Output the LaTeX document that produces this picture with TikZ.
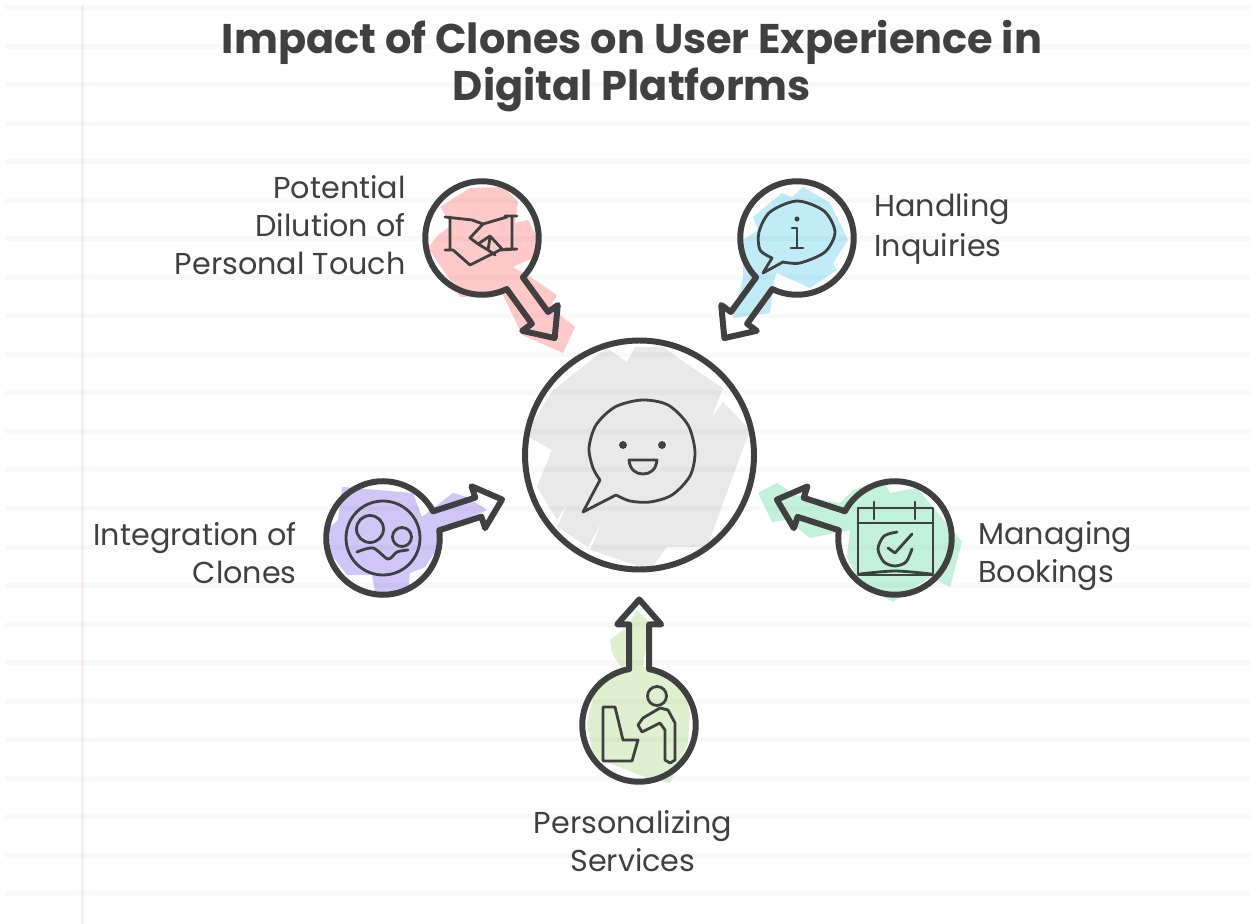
\documentclass[tikz,border=0pt]{standalone}
\usepackage{fontspec}
\setmainfont{Poppins}
\usetikzlibrary{calc}

\definecolor{inkgray}{HTML}{404040}
\definecolor{pinkwash}{HTML}{FFC9C9}
\definecolor{bluewash}{HTML}{BFECF8}
\definecolor{purplewash}{HTML}{D0C6F7}
\definecolor{mintwash}{HTML}{C3F2DC}
\definecolor{limewash}{HTML}{DEF0CD}
\definecolor{graywash}{HTML}{E9E9E9}

\tikzset{
	outline/.style={draw=inkgray, line width=3.4pt, line join=round},
	icon/.style={draw=inkgray, line width=1.6pt, line join=round, line cap=round},
	hubnode/.style={circle, outline, minimum size=45.8mm, inner sep=0pt},
	discnode/.style={circle, minimum size=22.8mm, inner sep=0pt},
	headline/.style={text=inkgray, align=center, inner sep=0pt, font=\fontsize{23.6}{27.2}\selectfont\bfseries},
	caption/.style={text=inkgray, inner sep=0pt, font=\fontsize{17.2}{21.6}\selectfont},
}

\newcommand{\spoke}[1]{
	\draw[outline] let \p1=($(hub.center)-(#1.center)$), \n1={atan2(\y1,\x1)}, \n2={veclen(\x1,\y1)-82.2pt}, \n3={\n2-14.2pt} in
		{[shift={(#1.center)}, rotate=\n1] (10.1:32.3pt) arc[start angle=10.1, end angle=349.9, radius=32.3pt]
		-- (\n3, -5.7pt) -- (\n3, -12.5pt) -- (\n2, 0pt) -- (\n3, 12.5pt) -- (\n3, 5.7pt) -- cycle};
}

\begin{document}
\begin{tikzpicture}[x=0.2mm, y=-0.2mm]
	\useasboundingbox (0, 0) rectangle (1250, 924);
	\fill[white] (0, 0) rectangle (1250, 924);

	\fill[graywash]		(553, 390) -- (607, 348) -- (627, 362) -- (635, 347) -- (663, 347) -- (700, 373) -- (723, 388) -- (712, 417) -- (723, 402) -- (750, 430) -- (707, 547) -- (667, 547) -- (650, 570) -- (590, 550) -- (603, 520) -- (588, 547) -- (557, 527) -- (568, 503) -- (557, 520) -- (537, 487) -- (552, 450) -- (530, 438) -- (528, 430) -- cycle;
	\fill[pinkwash]		(440, 207) -- (470, 188) -- (503, 187) -- (518, 202) -- (515, 223) -- (528, 220) -- (537, 238) -- (535, 257) -- (513, 267) -- (527, 275) -- (557, 295) -- (550, 307) -- (575, 327) -- (563, 353) -- (522, 335) -- (503, 295) -- (460, 297) -- (450, 280) -- (428, 248) -- (438, 235) -- (452, 225) -- cycle;
	\fill[bluewash]		(753, 217) -- (782, 193) -- (792, 197) -- (803, 187) -- (830, 203) -- (848, 240) -- (833, 263) -- (837, 270) -- (810, 288) -- (777, 273) -- (775, 277) -- (770, 313) -- (733, 318) -- (743, 277) -- (743, 240) -- (758, 230) -- cycle;
	\fill[purplewash]	(342, 487) -- (413, 493) -- (422, 517) -- (453, 493) -- (467, 497) -- (487, 510) -- (437, 532) -- (443, 540) -- (425, 567) -- (410, 573) -- (408, 592) -- (375, 592) -- (372, 575) -- (347, 575) -- (330, 553) -- (330, 527) -- (338, 520) -- cycle;
	\fill[mintwash]		(758, 493) -- (777, 483) -- (795, 495) -- (840, 503) -- (853, 490) -- (883, 480) -- (890, 493) -- (917, 488) -- (962, 542) -- (950, 587) -- (930, 577) -- (907, 592) -- (893, 602) -- (860, 583) -- (847, 557) -- (850, 530) -- (810, 538) -- (787, 520) -- (772, 522) -- cycle;
	\fill[limewash]		(637, 610) -- (650, 623) -- (643, 667) -- (663, 670) -- (683, 687) -- (690, 713) -- (688, 743) -- (670, 783) -- (653, 780) -- (593, 757) -- (587, 723) -- (597, 680) -- (623, 670) -- (612, 653) -- (610, 640) -- (627, 627) -- cycle;

	\draw[black, opacity=0.025, line width=1mm]
		(6, 8) to (1250, 8)			(6, 46.5) to (1250, 46.5)	(6, 85) to (1250, 85)		(6, 123.5) to (1250, 123.5)
		(6, 162) to (1250, 162)		(6, 200.5) to (1250, 200.5)	(6, 239) to (1250, 239)		(6, 277.5) to (1250, 277.5)
		(6, 316) to (1250, 316)		(6, 354.5) to (1250, 354.5)	(6, 393) to (1250, 393)		(6, 431.5) to (1250, 431.5)
		(6, 470) to (1250, 470)		(6, 508.5) to (1250, 508.5)	(6, 547) to (1250, 547)		(6, 585.5) to (1250, 585.5)
		(6, 624) to (1250, 624)		(6, 662.5) to (1250, 662.5)	(6, 701) to (1250, 701)		(6, 739.5) to (1250, 739.5)
		(6, 778) to (1250, 778)		(6, 816.5) to (1250, 816.5)	(6, 855) to (1250, 855)		(6, 893.5) to (1250, 893.5);
	\draw[red, opacity=0.08, line width=0.6mm] (82.5, 6) to (82.5, 924);

	\node[hubnode] (hub) at (639.5, 455) {};
	\node[discnode] (dilution) at (482, 238) {};
	\node[discnode] (inquiries) at (797, 238) {};
	\node[discnode] (clones) at (383, 538) {};
	\node[discnode] (bookings) at (895, 538) {};
	\node[discnode] (services) at (639, 725) {};

	\spoke{dilution}
	\spoke{inquiries}
	\spoke{clones}
	\spoke{bookings}
	\spoke{services}

	\draw[icon] plot [smooth] coordinates {(616, 495) (630, 501) (650, 502) (672, 495) (690, 476) (695, 452) (688, 425) (668, 405) (642, 400) (615, 407) (596, 425) (589, 448) (593, 468) (600, 480)} -- (583, 512) -- cycle;
	\filldraw[inkgray]	(623, 445) circle (2pt)
						(662, 445) circle (2pt);
	\draw[icon] (629, 460) -- (657, 460) .. controls (656, 470) and (650, 474) .. (643, 474) .. controls (636, 474) and (630, 470) .. cycle;

	\draw[icon] (445, 217) -- (472, 220) -- (483, 224) -- (507, 217) (505, 216) -- (517, 216) (512, 216) -- (512, 249) (505, 249) -- (517, 249) -- (500, 250) -- (470, 265) -- (453, 250)
				(445, 250) -- (453, 250) (450, 217) -- (450, 250)
				(483, 224) -- (470, 238) -- (478, 244) -- (490, 236) -- (503, 250) (490, 238) -- (488, 250) (478, 244) -- (488, 250) -- (495, 255);

	\draw[icon] plot [smooth] coordinates {(772, 258) (760, 250) (759, 232) (770, 212) (797, 201) (824, 211) (835, 232) (825, 252) (800, 263) (783, 262)} -- (763, 273) -- cycle;
	\filldraw[inkgray] (797, 219) circle (1.2pt);
	\draw[icon] (792, 228) -- (797, 228) -- (797, 248) (791, 248) -- (803, 248);

	\draw[icon] (383, 538) circle (37*0.2mm);
	\draw[icon] (370, 529) circle (13.5*0.2mm);
	\draw[icon] (402, 537) circle (9.5*0.2mm);
	\draw[icon] plot [smooth] coordinates {(357, 552) (373, 548) (388, 559) (397, 552) (408, 550)};

	\draw[icon] (858, 508) rectangle (933, 575);
	\draw[icon] (858, 523) -- (933, 523) (874, 502) -- (874, 519) (915, 502) -- (915, 519);
	\draw[icon] plot [smooth] coordinates {(897, 532) (884, 536) (878, 549) (884, 562) (895, 566) (906, 562) (912, 549)};
	\draw[icon] (888, 548) -- (895, 553) -- (912, 534);
	\draw[icon] plot [smooth] coordinates {(860, 574) (895, 571) (931, 574)};

	\draw[icon] (657, 696) circle (9.5*0.2mm);
	\draw[icon] (638, 725) -- (643, 718) -- (660, 708) -- (668, 710) -- (675, 723) -- (675, 760) -- (670, 763) -- (665, 760) -- (665, 730) -- (660, 723) -- (642, 732) -- cycle;
	\draw[icon] (603, 707) -- (615, 707) -- (623, 740) -- (638, 740) -- (632, 761) -- (603, 761) -- cycle;

	\node[headline] (title) at (632, 66) {Impact of Clones on User Experience in\\Digital Platforms};
	\node[caption, anchor=east, align=right] (dilutionlabel) at (406, 225) {Potential\\Dilution of\\Personal Touch};
	\node[caption, anchor=west, align=left] (inquirieslabel) at (874, 229) {Handling\\[1pt]Inquiries};
	\node[caption, anchor=east, align=right] (cloneslabel) at (297, 553) {Integration of\\Clones};
	\node[caption, anchor=west, align=left] (bookingslabel) at (978, 556) {Managing\\Bookings};
	\node[caption, align=center] (serviceslabel) at (633, 841) {Personalizing\\Services};
\end{tikzpicture}
\end{document}
